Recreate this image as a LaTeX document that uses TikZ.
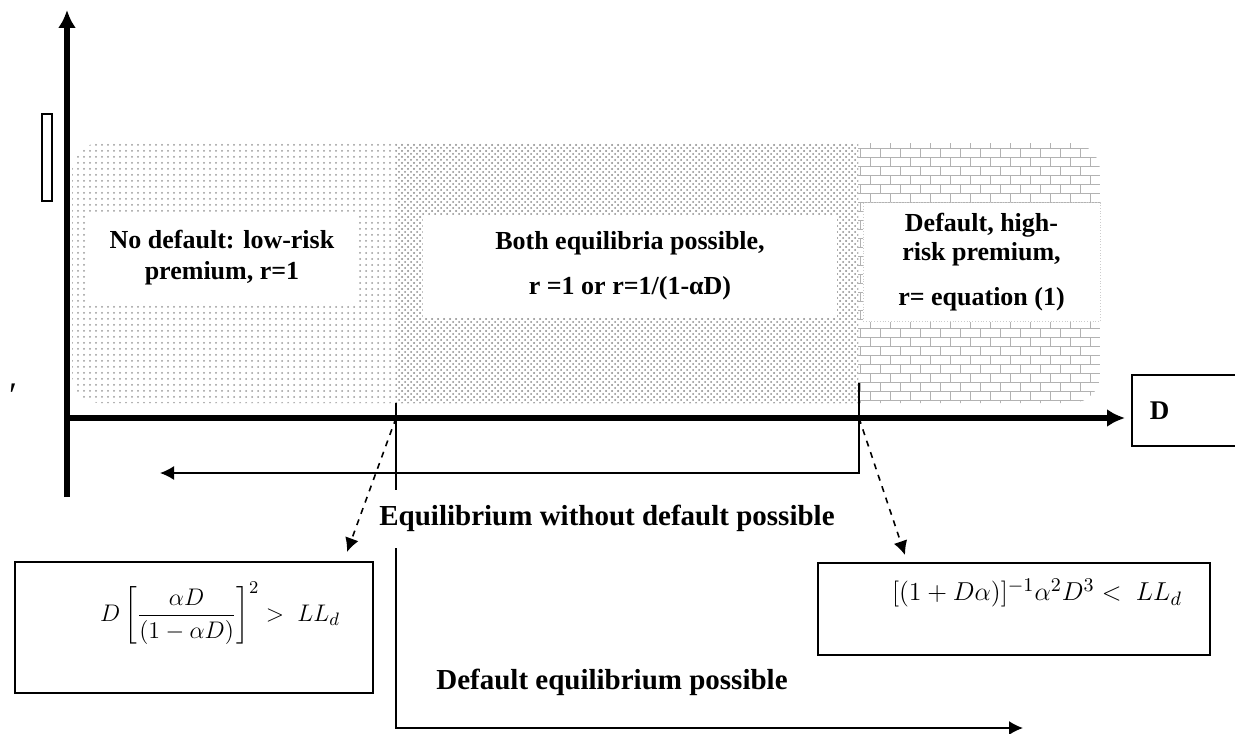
\documentclass[tikz,border=0pt]{standalone}
\usepackage{fontspec}
\setmainfont{Liberation Serif}
\usepackage{amsmath}
\usetikzlibrary{arrows.meta}
\usetikzlibrary{patterns}
\pgfdeclarepatternformonly{small bricks}{\pgfqpoint{-1pt}{-1pt}}{\pgfqpoint{11pt}{10pt}}{\pgfqpoint{10pt}{9pt}}{
  \pgfsetlinewidth{0.4pt}
  \pgfpathmoveto{\pgfqpoint{0pt}{0pt}}\pgfpathlineto{\pgfqpoint{10pt}{0pt}}
  \pgfpathmoveto{\pgfqpoint{0pt}{4.5pt}}\pgfpathlineto{\pgfqpoint{10pt}{4.5pt}}
  \pgfpathmoveto{\pgfqpoint{0pt}{0pt}}\pgfpathlineto{\pgfqpoint{0pt}{4.5pt}}
  \pgfpathmoveto{\pgfqpoint{5pt}{4.5pt}}\pgfpathlineto{\pgfqpoint{5pt}{9pt}}
  \pgfusepath{stroke}
}
\tikzset{
  every picture/.style={
    >={Latex[width=7pt, length=7pt]}
  },
  axis/.style={
    line width=3pt, -{Latex[width=9pt, length=9pt]}
  },
  zone text/.style={
    fill=white, inner sep=0pt, align=center,
    font=\fontsize{13}{14.5}\selectfont\bfseries
  },
  cond box/.style={
    draw, line width=0.9pt, inner sep=0pt
  },
  bound/.style={
    line width=0.8pt
  },
  label text/.style={
    fill=white, inner sep=1pt,
    font=\fontsize{14.5}{16}\selectfont\bfseries
  }
}

\begin{document}
\begin{tikzpicture}[x=0.5pt,y=-0.5pt]
  \useasboundingbox (0,0) rectangle (1235,733);
  % the three zones
  \begin{scope}
    \clip[rounded corners=14pt] (72,143) rectangle (1100,403);
    \fill[pattern=dots, pattern color=gray!80] (72,143) rectangle (396,403);
    \fill[pattern=crosshatch dots, pattern color=gray!90] (396,143) rectangle (858,403);
    \fill[pattern=dots, pattern color=gray!70] (396,143) rectangle (858,403);
    \fill[pattern=small bricks, pattern color=gray!60] (858,143) rectangle (1100,403);
  \end{scope}
  \node[zone text, minimum width=134.5pt, minimum height=43.5pt] (safe) at (222,258)
    {No default: low-risk\\[1pt] premium, r=1};
  \node[zone text, minimum width=207pt, minimum height=51.5pt] (both) at (630,266)
    {Both equilibria possible,\\[8pt] r =1 or r=1/(1-αD)};
  \node[zone text, draw=gray!40, densely dotted, minimum width=118.5pt, minimum height=59.5pt] (risky) at (981.5,262)
    {Default, high-\\ risk premium,\\[8pt] r= equation (1)};
  % axes
  \draw[axis] (67,497) coordinate(O) -- (67,10);
  \draw[axis] (64,418) -- (1125,418);
  \node[draw, line width=0.9pt, anchor=north west, inner xsep=9pt, text width=40pt, minimum height=35.5pt,
    font=\fontsize{13.5}{15}\selectfont\bfseries] (dlab) at (1131,374) {D};
  \draw[bound] (42,114) rectangle (52,201);
  \node[font=\fontsize{18}{18}\selectfont] (tick) at (13,396) {′};
  % thresholds
  \coordinate (lo) at (396,418);
  \coordinate (hi) at (859,418);
  \draw[bound] (396,403) -- (396,490);
  \draw[bound, ->] (859,383) -- (859,473) -- (160,473);
  \node[label text] (nodeflab) at (607,518) {Equilibrium without default possible};
  \node[label text] (deflab) at (612,682) {Default equilibrium possible};
  \draw[bound, ->] (396,548) -- (396,728) -- (1023,728);
  % conditions
  \node[cond box, minimum width=179pt, minimum height=65.5pt] (lbox) at (194,627.5) {};
  \node[font=\fontsize{13}{15}\selectfont] (lcond) at (220,613)
    {$D\left[\dfrac{\alpha D}{(1-\alpha D)}\right]^{2} >\ LL_{d}$};
  \node[cond box, minimum width=196pt, minimum height=46pt] (rbox) at (1014,609) {};
  \node[font=\fontsize{13.2}{15}\selectfont] (rcond) at (1037,593)
    {\scalebox{1.08}{$[(1+D\alpha)]^{-1}\alpha^{2}D^{3}<\ LL_{d}$}};
  \coordinate (ltip) at (347,552);
  \coordinate (rtip) at (905,555);
  \draw[bound, dashed, ->] (lo) -- (ltip);
  \draw[bound, dashed, ->] (hi) -- (rtip);
\end{tikzpicture}
\end{document}
